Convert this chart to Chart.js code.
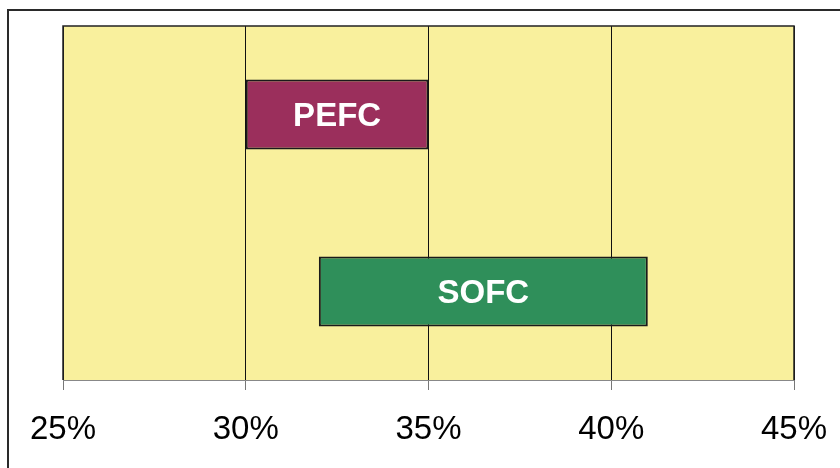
<!DOCTYPE html>
<html>
<head>
<meta charset="utf-8">
<script src="https://cdn.jsdelivr.net/npm/chart.js@4.4.1/dist/chart.umd.min.js"></script>
<style>
  html, body { margin: 0; padding: 0; background: #fff; }
  #wrap { width: 840px; height: 468px; }
</style>
</head>
<body>
<div id="wrap"><canvas id="chart" width="840" height="468"></canvas></div>
<script>
// Efficiency ranges of the two fuel cell types
const categories = ['PEFC', 'SOFC'];
const rangeLow = [30, 32];
const rangeHigh = [35, 41];
const barColors = ['#9B2F5C', '#2F8F5A'];
const tickValues = [25, 30, 35, 40, 45];

// outer frame + yellow plot background
const framePlugin = {
  id: 'frame',
  beforeDraw(chart) {
    const { ctx, chartArea: a } = chart;
    ctx.save();
    ctx.fillStyle = '#fff';
    ctx.fillRect(0, 0, chart.width, chart.height);
    ctx.strokeStyle = '#2a2a2a';
    ctx.lineWidth = 2;
    ctx.strokeRect(8, 10, chart.width + 10, chart.height + 10);
    ctx.fillStyle = '#F9F09D';
    ctx.fillRect(a.left, a.top, a.right - a.left, a.bottom - a.top);
    ctx.restore();
  },
  afterDatasetsDraw(chart) {
    const { ctx, chartArea: a } = chart;
    ctx.save();
    ctx.strokeStyle = '#222';
    ctx.lineWidth = 1.5;
    ctx.beginPath();
    ctx.moveTo(a.left, a.bottom);
    ctx.lineTo(a.left, a.top);
    ctx.lineTo(a.right, a.top);
    ctx.lineTo(a.right, a.bottom);
    ctx.stroke();
    ctx.strokeStyle = '#888';
    ctx.lineWidth = 1;
    ctx.beginPath();
    ctx.moveTo(a.left, a.bottom + 0.5);
    ctx.lineTo(a.right, a.bottom + 0.5);
    ctx.stroke();
    ctx.restore();
  }
};

// category name written in the middle of each bar
const barLabels = {
  id: 'barLabels',
  afterDatasetsDraw(chart) {
    const { ctx } = chart;
    const meta = chart.getDatasetMeta(0);
    ctx.save();
    ctx.fillStyle = '#fff';
    ctx.font = 'bold 33px "Liberation Sans", Arial, sans-serif';
    ctx.textAlign = 'center';
    ctx.textBaseline = 'middle';
    meta.data.forEach((bar, i) => {
      const cx = (bar.x + bar.base) / 2;
      ctx.fillText(categories[i], cx, bar.y + 2);
    });
    ctx.restore();
  }
};

new Chart(document.getElementById('chart'), {
  type: 'bar',
  data: {
    labels: categories,
    datasets: [{
      data: categories.map((c, i) => [rangeLow[i], rangeHigh[i]]),
      backgroundColor: barColors,
      borderColor: '#1a1a1a',
      borderWidth: 2,
      borderSkipped: false,
      barPercentage: 1,
      categoryPercentage: 0.395
    }]
  },
  options: {
    indexAxis: 'y',
    responsive: false,
    animation: false,
    layout: { padding: { left: 63, right: 46, top: 26, bottom: 0 } },
    plugins: { legend: { display: false }, tooltip: { enabled: false } },
    scales: {
      y: { display: false },
      x: {
        min: 25,
        max: 45,
        afterBuildTicks(scale) {
          scale.ticks = tickValues.map(v => ({ value: v }));
        },
        afterFit(scale) {
          scale.height = 88;
          scale.paddingLeft = 0;
          scale.paddingRight = 0;
        },
        border: { display: false },
        grid: {
          color: '#111',
          lineWidth: 1,
          drawTicks: true,
          tickLength: 10,
          tickColor: '#777'
        },
        ticks: {
          color: '#000',
          padding: 20,
          font: { family: '"Liberation Sans", Arial, sans-serif', size: 33 },
          callback: v => v + '%'
        }
      }
    }
  },
  plugins: [framePlugin, barLabels]
});
</script>
</body>
</html>
